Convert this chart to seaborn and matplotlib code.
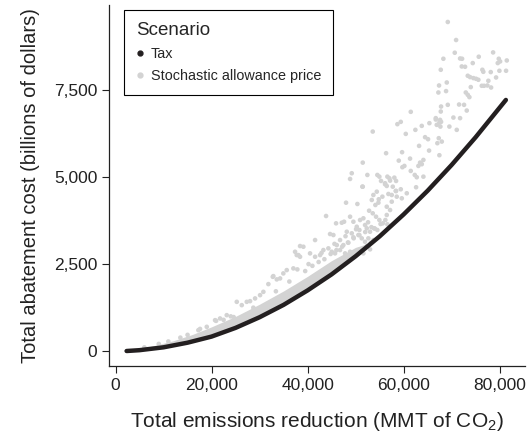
import numpy as np
import pandas as pd
import seaborn as sns
import matplotlib.pyplot as plt
from matplotlib.lines import Line2D

# Tax scenario: cost curve
tax_x = [2300, 5000, 10000, 15000, 20000, 25000, 30000, 35000, 40000,
         45000, 50000, 55000, 60000, 65000, 70000, 75000, 81300]
tax_y = [6, 30, 112, 245, 420, 670, 975, 1330, 1745,
         2205, 2725, 3295, 3925, 4605, 5345, 6140, 7210]

# dense core of the stochastic runs, just above the tax curve
band_x = [2500, 5000, 8000, 12000, 16000, 20000, 25000, 30000, 35000, 40000, 45000, 50000, 53000]
band_lo = [6, 27, 70, 157, 275, 425, 675, 978, 1335, 1746, 2208, 2726, 3066]
band_hi = [15, 70, 160, 300, 480, 700, 1000, 1350, 1730, 2150, 2600, 2980, 3110]

# scattered stochastic allowance price runs
stoch_x = [6000, 9000, 11000, 13500, 15000, 17250, 17600, 19000, 20730, 20940, 21770, 22500,
           23160, 24000, 25250, 26290, 27330, 28020, 29060, 30100, 30790, 31830, 32750, 32870,
           33580, 34270, 34950, 35660, 37040, 37870, 38430, 37740, 37390, 38430, 38080, 39120,
           40510, 41560, 42600, 41560, 43290, 44330, 45030, 45720, 44680, 45370, 43850, 45930,
           47120, 47600, 46760, 46080, 47450, 48490, 48160, 49200, 49540, 50580, 51280, 51970,
           52660, 53160, 53700, 46760, 47810, 48850, 49890, 50930, 51620, 52330, 53010, 50240,
           50790, 52330, 53010, 53850, 54530, 48850, 49540, 50930, 51620, 51970, 52810, 53570,
           54260, 54950, 55660, 56490, 56200, 56620, 48010, 50370, 53370, 54120, 54750, 56830,
           57530, 56490, 57180, 54410, 53700, 54820, 55580, 58360, 56620, 57180, 56140, 57740,
           51410, 49200, 48850, 51490, 57530, 58570, 59620, 58430, 59410, 60660, 62600, 55300,
           56140, 56490, 51490, 57030, 58070, 58430, 61490, 62320, 62740, 64120, 52450, 54530,
           54950, 67450, 59740, 60160, 63430, 64120, 63780, 63080, 58990, 61340, 59680, 56350,
           65300, 63220, 67320, 67950, 67030, 64470, 65090, 60450, 62450, 63780, 65370, 58700,
           59410, 53570, 61490, 67450, 66700, 67660, 66900, 67800, 69530, 71070, 66700, 70370,
           71760, 67590, 67740, 73150, 67800, 69200, 71550, 72590, 67240, 68840, 72950, 73360,
           73700, 67380, 73990, 76280, 76760, 77450, 78220, 68990, 73360, 73840, 74530, 75090,
           75570, 77650, 79260, 67740, 72110, 72800, 76400, 76600, 78150, 79950, 81340, 79820,
           80100, 79610, 81490, 74400, 75650, 78640, 68280, 71760, 72180, 70650, 70930, 69200,
           39500, 41000, 42300, 43500, 44800, 46000, 47200, 48400, 49600, 50800, 52000, 53300,
           40200, 42900, 45600, 47900, 50100, 52600, 54000, 55200, 36200, 33400, 28700, 24600]
stoch_y = [110, 210, 280, 390, 470, 604, 640, 700, 891, 871, 940, 900,
           1035, 1000, 1417, 1322, 1417, 1437, 1515, 1609, 1704, 1926, 2135, 2155,
           2061, 2089, 2233, 2328, 2377, 2348, 2710, 2759, 2854, 3018, 2759, 2998,
           2808, 2710, 2759, 3190, 2903, 2952, 2854, 2808, 3363, 3334, 3880, 3670,
           3687, 3716, 3190, 3046, 3046, 3113, 3429, 3383, 3268, 3334, 3239, 3141,
           3239, 3113, 3190, 2903, 2808, 2854, 2759, 2923, 2808, 3018, 2923, 3572,
           3478, 3526, 3429, 3526, 3478, 3860, 3716, 3765, 3814, 3621, 4032, 3957,
           3860, 3765, 3670, 3909, 3765, 3641, 4262, 4225, 4340, 4196, 4262, 4512,
           4291, 4147, 4052, 4578, 4483, 4360, 4435, 4598, 5009, 4895, 4791, 4722,
           4722, 5107, 4943, 5412, 4483, 4435, 4388, 4598, 4647, 4532, 4705, 4886,
           4820, 4742, 4722, 4963, 4981, 4886, 5173, 5058, 4992, 5009, 5058, 5058,
           5009, 5624, 5280, 5317, 5412, 5489, 5366, 5317, 5469, 5527, 5711, 5682,
           5757, 5892, 6113, 6015, 5969, 6142, 6084, 6236, 6352, 6466, 6544, 6515,
           6581, 6303, 6869, 6561, 6648, 6446, 6495, 6581, 6446, 6352, 6688, 6705,
           6688, 6639, 6878, 6906, 7021, 7070, 7079, 7070, 7424, 7464, 7424, 7357,
           7291, 7625, 7579, 7616, 7616, 7625, 7567, 7711, 7904, 7866, 7837, 7817,
           7789, 7760, 7855, 8076, 8171, 8162, 8076, 8018, 8010, 8047, 8047, 8392,
           8315, 8268, 8343, 8268, 8450, 8574, 8392, 8400, 8392, 8565, 8930, 9447,
           2300, 2450, 2560, 2640, 2790, 2900, 3000, 3120, 3240, 3330, 3420, 3560,
           2500, 2820, 3080, 3300, 3500, 3700, 3520, 3650, 2000, 1720, 1250, 980]

x_ticks = [0, 20000, 40000, 60000, 80000]
y_ticks = [0, 2500, 5000, 7500]

tax = pd.DataFrame({'reduction': tax_x, 'cost': tax_y})
stoch = pd.DataFrame({'reduction': stoch_x, 'cost': stoch_y})

sns.set_style("ticks")
plt.rcParams['font.family'] = ['Liberation Sans', 'DejaVu Sans']
plt.rcParams['mathtext.default'] = 'regular'

gray = '#d3d3d3'
dark = '#231f20'

fig, ax = plt.subplots(figsize=(5.32, 4.37), dpi=100)
fig.subplots_adjust(left=0.205, right=0.987, bottom=0.162, top=0.989)

ax.fill_between(band_x, band_lo, band_hi, color=gray, lw=0, zorder=1)
sns.scatterplot(data=stoch, x='reduction', y='cost', color=gray, s=11,
                edgecolor='none', ax=ax, zorder=2, legend=False)
sns.lineplot(data=tax, x='reduction', y='cost', color=dark, lw=3.2,
             ax=ax, zorder=3, legend=False)

ax.set_xlim(-1350, 85300)
ax.set_ylim(-430, 9940)
ax.set_xticks(x_ticks)
ax.set_yticks(y_ticks)
ax.set_xticklabels([f'{v:,}' for v in x_ticks])
ax.set_yticklabels([f'{v:,}' for v in y_ticks])
ax.tick_params(labelsize=12.5, colors='#222222', length=5, width=0.8)
for s in ['left', 'bottom']:
    ax.spines[s].set_color('#222222')
    ax.spines[s].set_linewidth(0.9)
sns.despine(ax=ax)

ax.set_xlabel('Total emissions reduction (MMT of CO$_2$)', fontsize=15,
              color='#222222', labelpad=12)
ax.set_ylabel('Total abatement cost (billions of dollars)', fontsize=14.5,
              color='#222222', labelpad=10)

handles = [Line2D([], [], marker='o', ls='', color=dark, markersize=3.5),
           Line2D([], [], marker='o', ls='', color=gray, markersize=3.5)]
leg = ax.legend(handles, ['Tax', 'Stochastic allowance price'], title='Scenario',
                loc='upper left', bbox_to_anchor=(0.036, 0.986), borderaxespad=0,
                fontsize=10.4, title_fontsize=13.5, frameon=True, fancybox=False,
                framealpha=1, edgecolor='black', handlelength=0.5, handletextpad=0.5,
                labelspacing=0.55, borderpad=0.85)
leg.get_frame().set_linewidth(0.8)
leg._legend_box.align = 'left'

plt.savefig('out.png', dpi=100)
